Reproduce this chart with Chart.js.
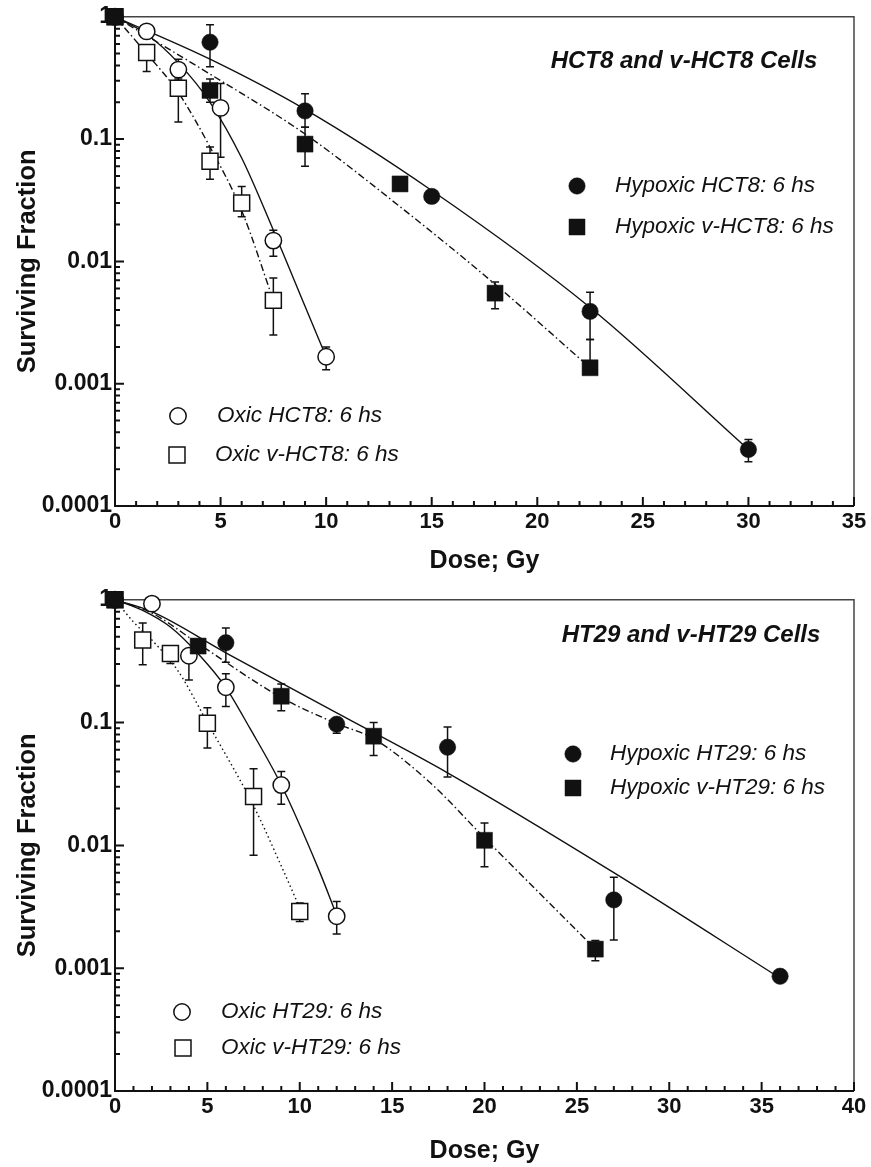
<!DOCTYPE html>
<html>
<head>
<meta charset="utf-8">
<script src="https://cdn.jsdelivr.net/npm/chart.js@4.4.1/dist/chart.umd.min.js"></script>
<style>
	html, body { margin: 0; padding: 0; background: #fff; }
	#wrap { position: relative; width: 871px; height: 1167px; }
	canvas { position: absolute; left: 0; }
	#top { top: 0; }
	#bottom { top: 583px; }
</style>
</head>
<body>
<div id="wrap">
	<canvas id="top" width="871" height="583"></canvas>
	<canvas id="bottom" width="871" height="584"></canvas>
</div>
<script>

// shared axis ticks
const yTickValues = [ 0.0001, 0.001, 0.01, 0.1, 1 ];
const yTickLabels = [ '0.0001', '0.001', '0.01', '0.1', '1' ];

// HCT8 panel: measured points (dose Gy, surviving fraction, error bar ends)
const hypHctDose = [ 0, 4.5, 9, 15, 22.5, 30 ];
const hypHctSF = [ 1, 0.62, 0.17, 0.034, 0.0039, 0.00029 ];
const hypHctHi = [ null, 0.86, 0.235, null, 0.0056, 0.00035 ];
const hypHctLo = [ null, 0.39, 0.125, 0.03, 0.0023, 0.00023 ];

const hypVHctDose = [ 0, 4.5, 9, 13.5, 18, 22.5 ];
const hypVHctSF = [ 1, 0.25, 0.091, 0.043, 0.0055, 0.00135 ];
const hypVHctHi = [ null, 0.31, 0.125, null, 0.0068, 0.0023 ];
const hypVHctLo = [ null, 0.2, 0.06, null, 0.0041, null ];

const oxHctDose = [ 0, 1.5, 3, 5, 7.5, 10 ];
const oxHctSF = [ 1, 0.76, 0.37, 0.18, 0.0148, 0.00166 ];
const oxHctHi = [ null, null, 0.45, 0.285, 0.018, 0.002 ];
const oxHctLo = [ null, null, 0.3, 0.071, 0.011, 0.0013 ];

const oxVHctDose = [ 0, 1.5, 3, 4.5, 6, 7.5 ];
const oxVHctSF = [ 1, 0.51, 0.26, 0.066, 0.03, 0.0048 ];
const oxVHctHi = [ null, null, 0.31, 0.086, 0.041, 0.0073 ];
const oxVHctLo = [ null, 0.357, 0.138, 0.047, 0.0232, 0.0025 ];

// HCT8 panel: fitted curves
const hypHctFitDose = [ 0, 4.5, 9, 15, 22.5, 30 ];
const hypHctFitSF = [ 1, 0.45, 0.175, 0.038, 0.0042, 0.00029 ];
const hypVHctFitDose = [ 0, 4.5, 9, 13.5, 18, 22.5 ];
const hypVHctFitSF = [ 1, 0.34, 0.11, 0.028, 0.0065, 0.00135 ];
const oxHctFitDose = [ 0, 1.5, 3, 4.5, 6, 7.5, 9, 10 ];
const oxHctFitSF = [ 1, 0.72, 0.42, 0.2, 0.07, 0.018, 0.0043, 0.00166 ];
const oxVHctFitDose = [ 0, 1.5, 3, 4.5, 6, 7.5 ];
const oxVHctFitSF = [ 1, 0.5, 0.24, 0.086, 0.026, 0.0048 ];

// HT29 panel: measured points
const hypHtDose = [ 0, 6, 12, 18, 27, 36 ];
const hypHtSF = [ 1, 0.447, 0.097, 0.063, 0.0036, 0.00086 ];
const hypHtHi = [ null, 0.59, 0.105, 0.092, 0.0055, null ];
const hypHtLo = [ null, 0.31, 0.082, 0.036, 0.0017, null ];

const hypVHtDose = [ 0, 4.5, 9, 14, 20, 26 ];
const hypVHtSF = [ 1, 0.42, 0.164, 0.0775, 0.011, 0.00143 ];
const hypVHtHi = [ null, null, 0.206, 0.1, 0.0152, 0.00168 ];
const hypVHtLo = [ null, null, 0.125, 0.054, 0.0067, 0.00115 ];

const oxHtDose = [ 0, 2, 4, 6, 9, 12 ];
const oxHtSF = [ 1, 0.93, 0.35, 0.194, 0.031, 0.00265 ];
const oxHtHi = [ null, null, null, 0.25, 0.04, 0.0035 ];
const oxHtLo = [ null, null, 0.222, 0.135, 0.0216, 0.0019 ];

const oxVHtDose = [ 0, 1.5, 3, 5, 7.5, 10 ];
const oxVHtSF = [ 1, 0.47, 0.366, 0.099, 0.025, 0.0029 ];
const oxVHtHi = [ null, 0.646, null, 0.132, 0.042, 0.0034 ];
const oxVHtLo = [ null, 0.296, 0.303, 0.062, 0.0083, 0.0024 ];

// HT29 panel: fitted curves
const hypHtFitDose = [ 0, 2, 6, 12, 18, 27, 36 ];
const hypHtFitSF = [ 1, 0.8, 0.37, 0.12, 0.039, 0.006, 0.00083 ];
const hypVHtFitDose = [ 0, 2, 4.5, 9, 12, 14, 17, 20, 26 ];
const hypVHtFitSF = [ 1, 0.78, 0.44, 0.16, 0.098, 0.074, 0.033, 0.0115, 0.00143 ];
const oxHtFitDose = [ 0, 1.5, 3, 4.6, 6, 7.3, 9, 11, 12 ];
const oxHtFitSF = [ 1, 0.82, 0.6, 0.35, 0.193, 0.09, 0.031, 0.0065, 0.0027 ];
const oxVHtFitDose = [ 0, 1, 2, 3.4, 5, 7.5, 9, 10 ];
const oxVHtFitSF = [ 1, 0.66, 0.47, 0.265, 0.1, 0.021, 0.0068, 0.0031 ];

const FONT = "'Liberation Sans', Arial, Helvetica, sans-serif";
const INK = '#111';
const DASH_DOT = [ 7, 3, 1.5, 3 ];
const DOTTED = [ 1.5, 3 ];

const toPoints = ( xs, ys ) => xs.map( ( x, i ) => ( { x: x, y: ys[ i ] } ) );

function markerSet ( label, dose, sf, hi, lo, style, filled ) {

	return {
		label: label,
		data: toPoints( dose, sf ),
		errHi: hi,
		errLo: lo,
		showLine: false,
		clip: false,
		pointStyle: style,
		pointRadius: style === 'rect' ? 11.3 : 8.2,
		pointBackgroundColor: filled ? INK : '#fff',
		pointBorderColor: INK,
		pointBorderWidth: filled ? 0.5 : 1.5
	};

}

function fitSet ( dose, sf, dash ) {

	return {
		fit: true,
		data: toPoints( dose, sf ),
		showLine: true,
		pointRadius: 0,
		borderColor: INK,
		borderWidth: 1.4,
		borderDash: dash,
		cubicInterpolationMode: 'monotone',
		fill: false
	};

}

// box round the plot, plus the inward tick marks
const frame = {
	id: 'frame',
	beforeDatasetsDraw ( chart ) {

		const { ctx, chartArea: a, scales: { x, y } } = chart;

		ctx.save();
		ctx.strokeStyle = '#444';
		ctx.lineWidth = 1.5;
		ctx.beginPath();
		ctx.moveTo( a.left, a.top );
		ctx.lineTo( a.right, a.top );
		ctx.lineTo( a.right, a.bottom );
		ctx.stroke();

		ctx.strokeStyle = INK;
		ctx.lineWidth = 2;
		ctx.beginPath();
		ctx.moveTo( a.left, a.top );
		ctx.lineTo( a.left, a.bottom );
		ctx.lineTo( a.right, a.bottom );

		for ( let v = x.min; v <= x.max; v ++ ) {

			const px = x.getPixelForValue( v );
			ctx.moveTo( px, a.bottom );
			ctx.lineTo( px, a.bottom - ( v % 5 === 0 ? 9 : 5 ) );

		}

		for ( let e = - 4; e < 0; e ++ ) {

			for ( let m = 1; m < 10; m ++ ) {

				const py = y.getPixelForValue( m * Math.pow( 10, e ) );
				ctx.moveTo( a.left, py );
				ctx.lineTo( a.left + ( m === 1 ? 9 : 5 ), py );

			}

		}

		ctx.stroke();
		ctx.restore();

	}
};

// error bars go on after the curves, before the markers
const errorBars = {
	id: 'errorBars',
	afterDatasetDraw ( chart, args ) {

		const firstFit = chart.data.datasets.findIndex( d => d.fit );
		if ( args.index !== firstFit ) return;

		const { ctx, scales: { x, y } } = chart;

		ctx.save();
		ctx.strokeStyle = INK;
		ctx.lineWidth = 1.5;

		chart.data.datasets.forEach( ds => {

			if ( ! ds.errHi ) return;

			ds.data.forEach( ( p, i ) => {

				const px = x.getPixelForValue( p.x );
				const py0 = y.getPixelForValue( p.y );

				[ ds.errHi[ i ], ds.errLo[ i ] ].forEach( v => {

					if ( v == null ) return;
					const py = y.getPixelForValue( v );
					ctx.beginPath();
					ctx.moveTo( px, py0 );
					ctx.lineTo( px, py );
					ctx.moveTo( px - 4, py );
					ctx.lineTo( px + 4, py );
					ctx.stroke();

				} );

			} );

		} );

		ctx.restore();

	}
};

// panel title and the in-plot legend
const notes = {
	id: 'notes',
	afterDraw ( chart, args, opts ) {

		const ctx = chart.ctx;

		ctx.save();
		ctx.fillStyle = INK;
		ctx.textBaseline = 'middle';
		ctx.textAlign = 'center';
		ctx.font = 'italic bold 24px ' + FONT;
		ctx.fillText( opts.title, opts.titleX, opts.titleY );

		ctx.textAlign = 'left';
		ctx.font = 'italic 22.5px ' + FONT;

		opts.keys.forEach( k => {

			const ds = chart.data.datasets[ k.set ];

			ctx.beginPath();
			if ( ds.pointStyle === 'rect' ) {

				const h = ds.pointRadius * Math.SQRT1_2;
				ctx.rect( k.x - h, k.y - h, 2 * h, 2 * h );

			} else {

				ctx.arc( k.x, k.y, ds.pointRadius, 0, Math.PI * 2 );

			}

			ctx.fillStyle = ds.pointBackgroundColor;
			ctx.fill();
			ctx.lineWidth = ds.pointBorderWidth;
			ctx.strokeStyle = INK;
			ctx.stroke();

			ctx.fillStyle = INK;
			ctx.fillText( ds.label, k.textX, k.y );

		} );

		ctx.restore();

	}
};

function buildChart ( id, panel ) {

	return new Chart( document.getElementById( id ), {
		type: 'scatter',
		data: {
			datasets: panel.datasets
		},
		options: {
			responsive: false,
			animation: false,
			events: [],
			layout: {
				padding: { top: panel.top, right: 17, left: 0, bottom: 0 }
			},
			plugins: {
				legend: { display: false },
				tooltip: { enabled: false },
				notes: panel.notes
			},
			scales: {
				x: {
					type: 'linear',
					min: 0,
					max: panel.xMax,
					afterFit: s => { s.height = panel.xHeight; },
					grid: { display: false, drawTicks: false },
					border: { display: false },
					ticks: {
						stepSize: 5,
						padding: 3,
						color: INK,
						font: { family: FONT, size: 22, weight: 'bold' }
					},
					title: {
						display: true,
						text: 'Dose; Gy',
						color: INK,
						font: { family: FONT, size: 25, weight: 'bold' },
						padding: { top: 0, bottom: panel.titlePad }
					}
				},
				y: {
					type: 'logarithmic',
					min: 0.0001,
					max: 1,
					afterFit: s => { s.width = 115; },
					afterBuildTicks: s => { s.ticks = yTickValues.map( v => ( { value: v } ) ); },
					grid: { display: false, drawTicks: false },
					border: { display: false },
					ticks: {
						autoSkip: false,
						padding: 3,
						color: INK,
						font: { family: FONT, size: 23, weight: 'bold' },
						callback: v => yTickLabels[ yTickValues.indexOf( v ) ]
					},
					title: {
						display: true,
						text: 'Surviving Fraction',
						color: INK,
						font: { family: FONT, size: 25.5, weight: 'bold' },
						padding: { top: 13, bottom: 0 }
					}
				}
			}
		},
		plugins: [ frame, errorBars, notes ]
	} );

}

buildChart( 'top', {
	top: 14,
	xMax: 35,
	xHeight: 77,
	titlePad: 7,
	datasets: [
		markerSet( 'Hypoxic v-HCT8: 6 hs', hypVHctDose, hypVHctSF, hypVHctHi, hypVHctLo, 'rect', true ),
		markerSet( 'Hypoxic HCT8: 6 hs', hypHctDose, hypHctSF, hypHctHi, hypHctLo, 'circle', true ),
		markerSet( 'Oxic v-HCT8: 6 hs', oxVHctDose, oxVHctSF, oxVHctHi, oxVHctLo, 'rect', false ),
		markerSet( 'Oxic HCT8: 6 hs', oxHctDose, oxHctSF, oxHctHi, oxHctLo, 'circle', false ),
		fitSet( hypHctFitDose, hypHctFitSF, [] ),
		fitSet( hypVHctFitDose, hypVHctFitSF, DASH_DOT ),
		fitSet( oxHctFitDose, oxHctFitSF, [] ),
		fitSet( oxVHctFitDose, oxVHctFitSF, DASH_DOT )
	],
	notes: {
		title: 'HCT8 and v-HCT8 Cells',
		titleX: 684,
		titleY: 61,
		keys: [
			{ set: 1, x: 577, y: 186, textX: 615 },
			{ set: 0, x: 577, y: 227, textX: 615 },
			{ set: 3, x: 178, y: 416, textX: 217 },
			{ set: 2, x: 177, y: 455, textX: 215 }
		]
	}
} );

buildChart( 'bottom', {
	top: 16,
	xMax: 40,
	xHeight: 76,
	titlePad: 1,
	datasets: [
		markerSet( 'Hypoxic v-HT29: 6 hs', hypVHtDose, hypVHtSF, hypVHtHi, hypVHtLo, 'rect', true ),
		markerSet( 'Hypoxic HT29: 6 hs', hypHtDose, hypHtSF, hypHtHi, hypHtLo, 'circle', true ),
		markerSet( 'Oxic v-HT29: 6 hs', oxVHtDose, oxVHtSF, oxVHtHi, oxVHtLo, 'rect', false ),
		markerSet( 'Oxic HT29: 6 hs', oxHtDose, oxHtSF, oxHtHi, oxHtLo, 'circle', false ),
		fitSet( hypHtFitDose, hypHtFitSF, [] ),
		fitSet( hypVHtFitDose, hypVHtFitSF, DASH_DOT ),
		fitSet( oxHtFitDose, oxHtFitSF, [] ),
		fitSet( oxVHtFitDose, oxVHtFitSF, DOTTED )
	],
	notes: {
		title: 'HT29 and v-HT29 Cells',
		titleX: 691,
		titleY: 52,
		keys: [
			{ set: 1, x: 573, y: 171, textX: 610 },
			{ set: 0, x: 573, y: 205, textX: 610 },
			{ set: 3, x: 182, y: 429, textX: 221 },
			{ set: 2, x: 183, y: 465, textX: 221 }
		]
	}
} );

</script>
</body>
</html>
